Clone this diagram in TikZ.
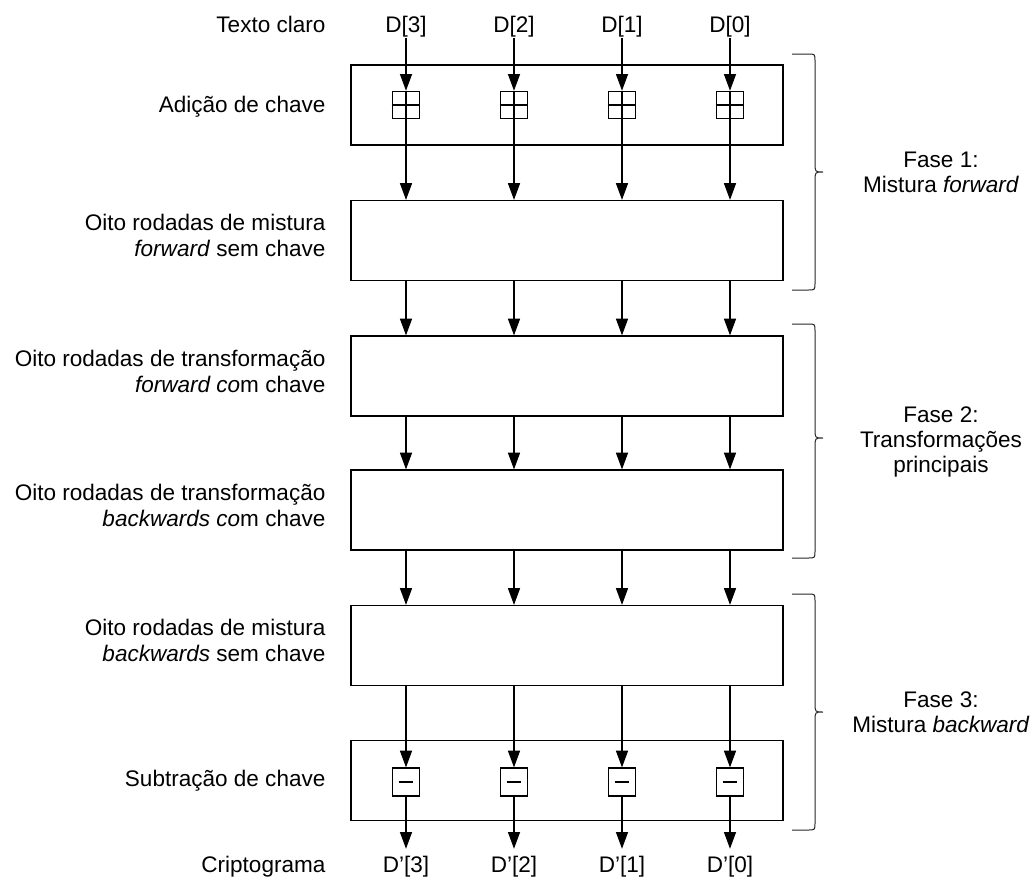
\documentclass[tikz,border=0pt]{standalone}
\usepackage{fontspec}
\setmainfont{Liberation Sans}
\usetikzlibrary{arrows.meta}
\begin{document}
\begin{tikzpicture}[x=0.75pt,y=-0.75pt,
  txt/.style={font=\fontsize{16.9}{20}\selectfont, inner sep=1pt},
  lbl/.style={txt, anchor=base east},
  ph/.style={txt, anchor=base},
  blk/.style={draw, line width=0.9pt, minimum width=324pt, minimum height=60pt, inner sep=0pt},
  opbox/.style={draw, line width=0.9pt, minimum width=20.5pt, minimum height=20.5pt, inner sep=0pt, fill=white},
  arr/.style={line width=0.9pt, -{Triangle[length=12.5pt,width=9pt]}},
  brc/.style={line width=0.75pt, black!85},
]
\useasboundingbox (0,0) rectangle (1033,882);

% processing stages
\node[blk] (b1) at (567,105) {};
\node[blk] (b2) at (567,240.5) {};
\node[blk] (b3) at (567,376) {};
\node[blk] (b4) at (567,510) {};
\node[blk] (b5) at (567,645.5) {};
\node[blk] (b6) at (567,780.5) {};

% stage labels
\node[lbl] (t0) at (327,32) {Texto claro};
\node[lbl] (t1) at (327,112) {Adição de chave};
\node[lbl] (t2a) at (327,230.5) {Oito rodadas de mistura};
\node[lbl] (t2b) at (327,256.5) {\textit{forward} sem chave};
\node[lbl] (t3a) at (327,366) {Oito rodadas de transformação};
\node[lbl] (t3b) at (327,392) {\textit{forward co}m chave};
\node[lbl] (t4a) at (327,500) {Oito rodadas de transformação};
\node[lbl] (t4b) at (327,526) {\textit{backwards co}m chave};
\node[lbl] (t5a) at (327,635.5) {Oito rodadas de mistura};
\node[lbl] (t5b) at (327,661.5) {\textit{backwards} sem chave};
\node[lbl] (t6) at (327,786) {Subtração de chave};
\node[lbl] (t7) at (327,872) {Criptograma};

% the four data words
\foreach \i/\x in {3/406, 2/514, 1/622, 0/730} {
  \coordinate (c\i) at (\x,0);
  \node[opbox] (p\i) at (\x,105) {};
  \draw[line width=0.9pt] (p\i.north) -- (p\i.south) (p\i.west) -- (p\i.east);
  \node[opbox, minimum height=21pt] (m\i) at (\x,782) {};
  \draw[line width=0.9pt] ([xshift=-5.6pt]m\i.center) -- ([xshift=5.6pt]m\i.center);
  \node[ph] (d\i) at (\x,32) {D[\i]};
  \node[ph] (o\i) at (\x,872) {D’[\i]};
  \draw[arr] (d\i) -- (p\i);
  \draw[arr] (p\i) -- (b2.north -| c\i);
  \draw[arr] (b2.south -| c\i) -- (b3.north -| c\i);
  \draw[arr] (b3.south -| c\i) -- (b4.north -| c\i);
  \draw[arr] (b4.south -| c\i) -- (b5.north -| c\i);
  \draw[arr] (b5.south -| c\i) -- (m\i);
  \draw[arr, shorten >=4pt] (m\i) -- (o\i);
}

% phase braces
\def\phasebrace#1#2#3{%
  \draw[brc] (792,#1) -- (808,#1) .. controls (815,#1) .. (815,#1+7)
    -- (815,#3-9) .. controls (815,#3) .. (823,#3)
    .. controls (815,#3) .. (815,#3+9)
    -- (815,#2-7) .. controls (815,#2) .. (808,#2) -- (792,#2);}
\phasebrace{54}{290}{172}
\phasebrace{324}{558}{438}
\phasebrace{594}{830}{712}

% phase captions
\node[ph] (f1a) at (941,167) {Fase 1:};
\node[ph] (f1b) at (941,192) {Mistura \textit{forward}};
\node[ph] (f2a) at (941,422) {Fase 2:};
\node[ph] (f2b) at (941,447) {Transformações};
\node[ph] (f2c) at (941,472) {principais};
\node[ph] (f3a) at (941,707) {Fase 3:};
\node[ph] (f3b) at (941,732) {Mistura \textit{backward}};
\end{tikzpicture}
\end{document}
